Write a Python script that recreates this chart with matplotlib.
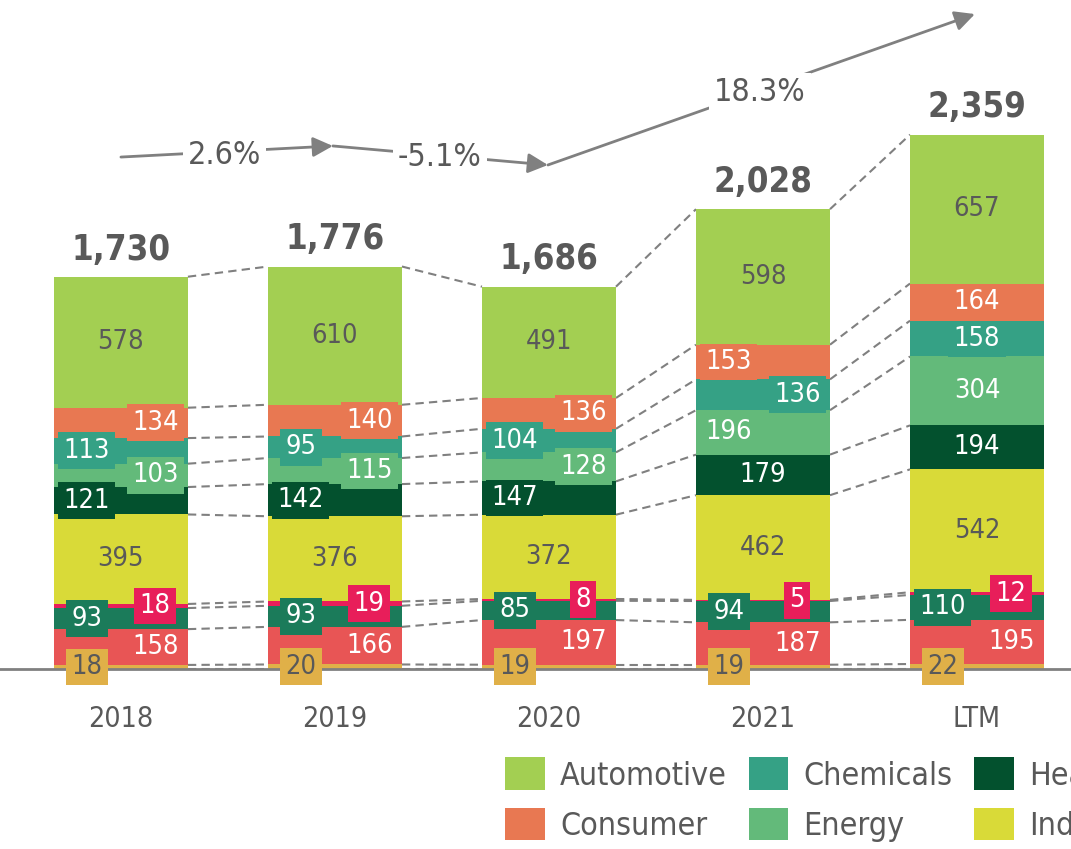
import matplotlib
matplotlib.use('Agg')
import matplotlib.pyplot as plt
import numpy as np

plt.rcParams['font.family'] = ['DejaVu Sans']
plt.rcParams['font.stretch'] = 'condensed'

periods = ['2018', '2019', '2020', '2021', 'LTM']
totals = [1730, 1776, 1686, 2028, 2359]
growth = ['2.6%', '-5.1%', '18.3%']

# stacked from bottom to top
seg_names = ['Other', 'Metals', 'Packaging', 'Transport', 'Industrial',
             'Healthcare', 'Energy', 'Chemicals', 'Consumer', 'Automotive']
other = [18, 20, 19, 19, 22]
metals = [158, 166, 197, 187, 195]
packaging = [93, 93, 85, 94, 110]
transport = [18, 19, 8, 5, 12]
industrial = [395, 376, 372, 462, 542]
healthcare = [121, 142, 147, 179, 194]
energy = [103, 115, 128, 196, 304]
chemicals = [113, 95, 104, 136, 158]
consumer = [134, 140, 136, 153, 164]
automotive = [578, 610, 491, 598, 657]
seg_values = [other, metals, packaging, transport, industrial,
              healthcare, energy, chemicals, consumer, automotive]

colors = ['#E0B048', '#E85555', '#1B7B5A', '#E81E5A', '#D9DA38',
          '#03512E', '#63BA7A', '#35A185', '#E87852', '#A3CF52']
text_cols = ['#595959', 'white', 'white', 'white', '#595959',
             'white', 'white', 'white', 'white', '#595959']
# where each label sits inside its bar: l / c / r
label_pos = [
    'lllll', 'rrrrr', 'lllll', 'rrrrr', 'ccccc',
    'lllcc', 'rrrlc', 'lllrc', 'rrrlc', 'ccccc',
]
offs = {'l': -0.16, 'c': 0.0, 'r': 0.16}

gray = '#595959'
line_gray = '#808080'
width = 0.626

fig = plt.figure(figsize=(10.71, 8.49), dpi=100)
ax = fig.add_axes([0, 0.212, 1, 0.788])
x = np.arange(len(periods))

bottom = np.zeros(len(periods))
bounds = [bottom.copy()]
bars = {}
for name, vals, col in zip(seg_names, seg_values, colors):
    vals = np.array(vals, dtype=float)
    bars[name] = ax.bar(x, vals, width, bottom=bottom, color=col,
                        linewidth=0, zorder=2, label=name)
    bottom = bottom + vals
    bounds.append(bottom.copy())

# labels in the segments
for k, (vals, col, tc) in enumerate(zip(seg_values, colors, text_cols)):
    for i in range(len(periods)):
        yc = bounds[k][i] + vals[i] / 2
        ax.text(x[i] + offs[label_pos[k][i]], yc, str(vals[i]), ha='center',
                va='center', fontsize=19.5, color=tc, zorder=5,
                bbox=dict(boxstyle='square,pad=0.2', fc=col, ec='none'))

# dashed connectors between bars
for b in bounds:
    for i in range(len(periods) - 1):
        ax.plot([x[i] + width / 2, x[i + 1] - width / 2], [b[i], b[i + 1]],
                color=line_gray, lw=1.5, ls=(0, (4, 2.5)), zorder=1)

for i, t in enumerate(totals):
    ax.text(x[i], bounds[-1][i] + 45, f'{t:,}', ha='center', va='bottom',
            fontsize=25, fontweight='bold', color=gray)

# growth arrows
pts = [(0, 2259), (0.99, 2308), (1.995, 2224), (3.99, 2890)]
txt_pos = [(0.486, 2268), (1.49, 2255), (2.986, 2542)]
for j in range(3):
    ax.annotate('', xy=pts[j + 1], xytext=pts[j],
                arrowprops=dict(arrowstyle='-|>,head_length=0.6,head_width=0.3',
                                color=line_gray, lw=2, shrinkA=0, shrinkB=0,
                                mutation_scale=20), zorder=3)
    ax.text(*txt_pos[j], growth[j], ha='center', va='center', fontsize=23,
            color=gray, zorder=4,
            bbox=dict(boxstyle='square,pad=0.15', fc='white', ec='none'))

ax.set_xlim(-0.565, 4.439)
ax.set_ylim(0, 2952)
ax.set_xticks(x)
ax.set_xticklabels(periods, fontsize=20.5, color=gray)
ax.tick_params(axis='x', length=0, pad=26)
ax.set_yticks([])
for s in ['top', 'left', 'right']:
    ax.spines[s].set_visible(False)
ax.spines['bottom'].set_color(line_gray)
ax.spines['bottom'].set_linewidth(2)
ax.spines['bottom'].set_zorder(3)

leg_names = ['Automotive', 'Consumer', 'Chemicals', 'Energy', 'Healthcare', 'Industrial']
fig.legend(handles=[bars[n] for n in leg_names], labels=leg_names, ncol=3,
           loc='upper left', bbox_to_anchor=(0.4715, 0.108),
           bbox_transform=fig.transFigure, frameon=False, fontsize=23,
           handlelength=1.25, handleheight=1.21, handletextpad=0.47,
           columnspacing=0.68, labelspacing=0.5, borderpad=0, borderaxespad=0,
           labelcolor=gray)

fig.savefig('out.png', dpi=100)
